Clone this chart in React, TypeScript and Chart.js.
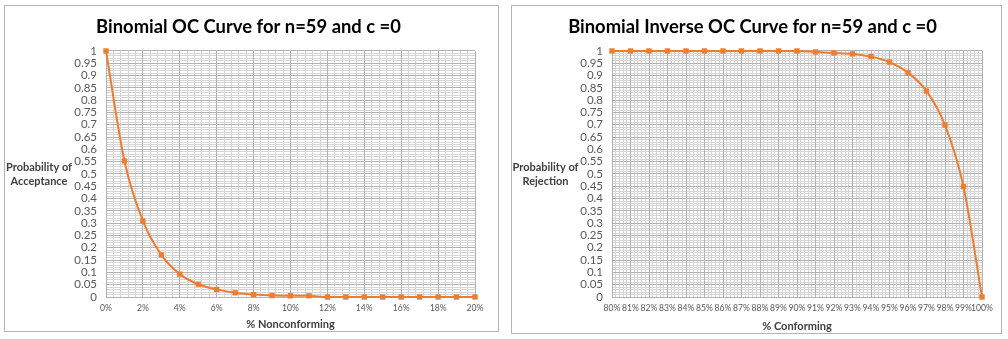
import React, { useEffect, useRef } from "react";
import { Chart, registerables } from "chart.js";

Chart.register(...registerables);

// ---- Data ----
const nonconformingPct = [0, 1, 2, 3, 4, 5, 6, 7, 8, 9, 10, 11, 12, 13, 14, 15, 16, 17, 18, 19, 20];
const acceptanceProb = [1, 0.553, 0.309, 0.171, 0.093, 0.052, 0.031, 0.017, 0.01, 0.006, 0.005, 0.005, 0, 0, 0, 0, 0, 0, 0, 0, 0];

const conformingPct = [80, 81, 82, 83, 84, 85, 86, 87, 88, 89, 90, 91, 92, 93, 94, 95, 96, 97, 98, 99, 100];
const rejectionProb = [1, 1, 1, 1, 1, 1, 1, 1, 1, 1, 1, 0.996, 0.992, 0.988, 0.977, 0.955, 0.912, 0.837, 0.699, 0.448, 0];

const leftTitle = "Binomial OC Curve for n=59 and c =0";
const rightTitle = "Binomial Inverse OC Curve for n=59 and c =0";
const leftXTitle = "% Nonconforming";
const rightXTitle = "% Conforming";
const leftYTitle = ["Probability of", "Acceptance"];
const rightYTitle = ["Probability of", "Rejection"];

const ORANGE = "#ED7D31";
const FONT = "Lato, 'Open Sans', sans-serif";
const MAJOR_GRID = "#b2b2b2";
const MINOR_GRID = "#d6d6d6";

const yTitlePlugin = {
  id: "yTitle",
  afterDraw(chart: any, _args: any, opts: any) {
    const { ctx } = chart;
    ctx.save();
    ctx.font = `bold 11px ${FONT}`;
    ctx.fillStyle = "#404040";
    ctx.textAlign = "center";
    ctx.textBaseline = "middle";
    (opts.lines as string[]).forEach((l, i) => ctx.fillText(l, opts.x, opts.y + i * opts.lh));
    ctx.restore();
  },
};

type Props = {
  title: string;
  xTitle: string;
  yTitle: string[];
  xs: number[];
  ys: number[];
  xMin: number;
  xMax: number;
  xStep: number;
  xMinorStep: number;
  width: number;
  height: number;
  plotLeft: number;
  plotRight: number;
  plotBottom: number;
  titleShift: number;
  yTitleX: number;
  yTitleY: number;
  yTitleLh: number;
  left: number;
  top: number;
};

function OCChart(p: Props) {
  const ref = useRef<HTMLCanvasElement | null>(null);
  useEffect(() => {
    if (!ref.current) return;
    const padR = p.width - p.plotRight;
    const chart = new Chart(ref.current, {
      type: "line",
      data: {
        datasets: [
          {
            data: p.xs.map((x, i) => ({ x, y: p.ys[i] })),
            borderColor: ORANGE,
            backgroundColor: ORANGE,
            borderWidth: 2,
            pointStyle: "rect",
            pointRadius: 3.8,
            pointBorderWidth: 0,
            pointBackgroundColor: ORANGE,
            cubicInterpolationMode: "monotone",
            clip: false,
            fill: false,
          } as any,
        ],
      },
      options: {
        responsive: false,
        animation: false,
        devicePixelRatio: 1,
        layout: { padding: { left: 0, top: 0, bottom: 0, right: 2 * p.titleShift } },
        plugins: {
          legend: { display: false },
          tooltip: { enabled: false },
          title: {
            display: true,
            text: p.title,
            color: "#000000",
            font: { family: FONT, size: 18.4, weight: "bold", lineHeight: 1.2 },
            padding: { top: 10, bottom: 12.9 },
          },
          yTitle: { lines: p.yTitle, x: p.yTitleX, y: p.yTitleY, lh: p.yTitleLh },
        } as any,
        scales: {
          xMinor: {
            type: "linear",
            position: "bottom",
            min: p.xMin,
            max: p.xMax,
            z: -1,
            ticks: { display: false, stepSize: p.xMinorStep },
            grid: { color: MINOR_GRID, drawTicks: false, lineWidth: 1 },
            border: { display: false },
            afterFit: (s: any) => {
              s.height = 0;
            },
          },
          yMinor: {
            type: "linear",
            position: "right",
            min: 0,
            max: 1,
            z: -1,
            ticks: { display: false, stepSize: 0.01 },
            grid: { color: MINOR_GRID, drawTicks: false, lineWidth: 1 },
            border: { display: false },
            afterFit: (s: any) => {
              s.width = padR - 2 * p.titleShift;
            },
          },
          x: {
            type: "linear",
            position: "bottom",
            min: p.xMin,
            max: p.xMax,
            ticks: {
              stepSize: p.xStep,
              autoSkip: false,
              maxRotation: 0,
              minRotation: 0,
              padding: 6,
              color: "#595959",
              font: { family: FONT, size: 8.6 },
              callback: (v: any) => `${Math.round(Number(v))}%`,
            },
            grid: { color: MAJOR_GRID, drawTicks: false },
            border: { color: MAJOR_GRID },
            title: {
              display: true,
              text: p.xTitle,
              color: "#404040",
              font: { family: FONT, size: 11, weight: "bold", lineHeight: 1.2 },
              padding: 0,
            },
            afterFit: (s: any) => {
              s.height = p.height - p.plotBottom;
            },
          },
          y: {
            type: "linear",
            position: "left",
            min: 0,
            max: 1,
            ticks: {
              stepSize: 0.05,
              autoSkip: false,
              padding: 9,
              color: "#595959",
              font: { family: FONT, size: 11.5 },
              callback: (v: any) => String(Number(Number(v).toFixed(2))),
            },
            grid: { color: MAJOR_GRID, drawTicks: false },
            border: { color: MAJOR_GRID },
            afterFit: (s: any) => {
              s.width = p.plotLeft;
            },
          },
        } as any,
      },
      plugins: [yTitlePlugin as any],
    });
    return () => chart.destroy();
  }, []);

  return (
    <div
      style={{
        position: "absolute",
        left: p.left,
        top: p.top,
        width: p.width + 2,
        height: p.height + 2,
        border: "1px solid #b4b4b4",
        boxSizing: "border-box",
        background: "#ffffff",
      }}
    >
      <canvas ref={ref} width={p.width} height={p.height} style={{ display: "block", width: p.width, height: p.height }} />
    </div>
  );
}

export default function App() {
  return (
    <div style={{ position: "absolute", left: 0, top: 0, width: 1008, height: 339, background: "#ffffff" }}>
      <OCChart
        title={leftTitle}
        xTitle={leftXTitle}
        yTitle={leftYTitle}
        xs={nonconformingPct}
        ys={acceptanceProb}
        xMin={0}
        xMax={20}
        xStep={2}
        xMinorStep={0.4}
        width={493}
        height={325}
        plotLeft={101}
        plotRight={470}
        plotBottom={291}
        titleShift={3}
        yTitleX={34}
        yTitleY={161}
        yTitleLh={14.5}
        left={4}
        top={5}
      />
      <OCChart
        title={rightTitle}
        xTitle={rightXTitle}
        yTitle={rightYTitle}
        xs={conformingPct}
        ys={rejectionProb}
        xMin={80}
        xMax={100}
        xStep={1}
        xMinorStep={0.2}
        width={489}
        height={327}
        plotLeft={100}
        plotRight={470}
        plotBottom={291}
        titleShift={4}
        yTitleX={33.5}
        yTitleY={161}
        yTitleLh={14}
        left={511}
        top={5}
      />
    </div>
  );
}
